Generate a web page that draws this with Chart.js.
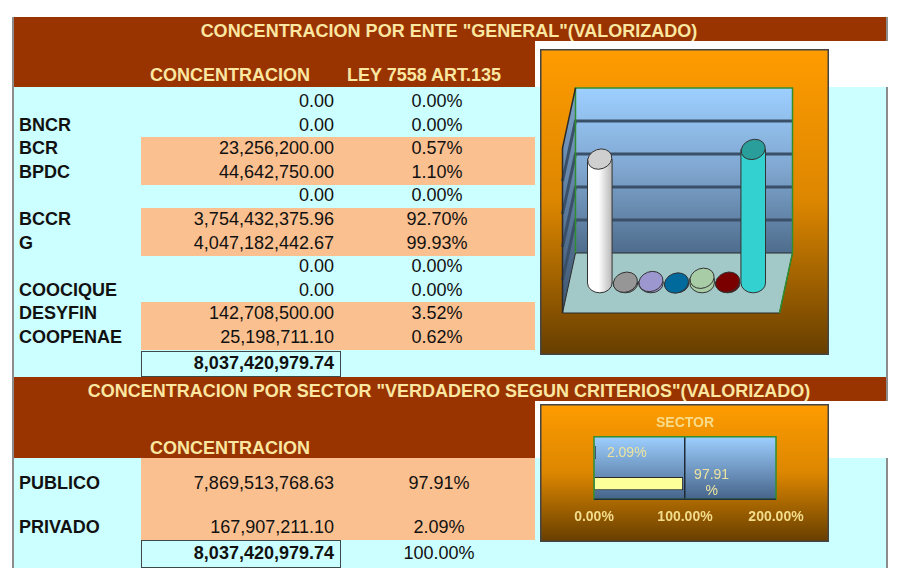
<!DOCTYPE html>
<html lang="es">
<head>
<meta charset="utf-8">
<title>Concentracion por ente</title>
<script src="https://cdn.jsdelivr.net/npm/chart.js@4.4.1/dist/chart.umd.min.js"></script>
<style>
  html, body { margin: 0; padding: 0; background: #fff; }
  body {
    width: 900px; height: 577px; position: relative; overflow: hidden;
    font-family: "Liberation Sans", Arial, sans-serif; font-size: 18px; color: #111;
  }
  .abs { position: absolute; box-sizing: border-box; }
  .cafe { background: #993300; color: #FBE7A1; font-weight: bold; }
  .cian { background: #CCFFFF; }
  .durazno { background: #FAC090; }
  .borde-der { border-right: 2px solid #8c8c8c; }
  .titulo { text-align: center; line-height: 24px; padding-top: 2px; white-space: nowrap; }
  .fila { line-height: 23.6px; height: 23.6px; white-space: nowrap; }
  .etq { font-weight: bold; }
  .der { text-align: right; }
  .cen { text-align: center; }
  .total { background: #CCFFFF; border: 1.5px solid #3d4a4a; font-weight: bold; text-align: right; padding-right: 6px; }
  canvas { position: absolute; }
</style>
</head>
<body>

<!-- bloque 1 -->
<div class="abs cafe titulo borde-der" style="left:12px;top:17px;width:876px;height:24px;">CONCENTRACION POR ENTE "GENERAL"(VALORIZADO)</div>
<div class="abs cafe" style="left:12px;top:41px;width:523px;height:46px;"></div>
<div class="abs cafe" style="left:150px;top:64px;line-height:22px;">CONCENTRACION</div>
<div class="abs cafe" style="left:347px;top:64px;line-height:22px;">LEY 7558 ART.135</div>
<div class="abs cian borde-der" style="left:12px;top:87px;width:876px;height:290px;"></div>
<div id="tablaEnte"></div>

<!-- bloque 2 -->
<div class="abs cafe titulo borde-der" style="left:12px;top:377px;width:876px;height:24px;">CONCENTRACION POR SECTOR "VERDADERO SEGUN CRITERIOS"(VALORIZADO)</div>
<div class="abs cafe" style="left:12px;top:401px;width:523px;height:57px;"></div>
<div class="abs cafe" style="left:150px;top:437px;line-height:22px;">CONCENTRACION</div>
<div class="abs cian borde-der" style="left:12px;top:458px;width:876px;height:110px;"></div>
<div id="tablaSector"></div>

<!-- borde izquierdo -->
<div class="abs" style="left:12px;top:17px;width:2px;height:551px;background:#8c8c8c;"></div>

<canvas id="cilindros" width="289" height="306" style="left:540px;top:49px;"></canvas>
<canvas id="sector" width="289" height="138" style="left:540px;top:404px;"></canvas>

<script>
// datos tabla por ente
const enteLabels = ['', 'BNCR', 'BCR', 'BPDC', '', 'BCCR', 'G', '', 'COOCIQUE', 'DESYFIN', 'COOPENAE'];
const enteMontos = [0, 0, 23256200.00, 44642750.00, 0, 3754432375.96, 4047182442.67, 0, 0, 142708500.00, 25198711.10];
const entePct = [0, 0, 0.57, 1.10, 0, 92.70, 99.93, 0, 0, 3.52, 0.62];
const enteTotal = 8037420979.74;

// datos grafico de cilindros
const cilLabels = ['BCCR', 'BCR', 'BPDC', 'COOCIQUE', 'DESYFIN', 'COOPENAE', 'G'];
const cilValues = [3754432375.96, 23256200.00, 44642750.00, 0, 142708500.00, 25198711.10, 4047182442.67];
const cilColors = ['#FFFFFF', '#969696', '#9C97CE', '#006A9C', '#A8CDA6', '#7A0000', '#33D2D0'];
const cilTapas = ['#CFCFCF', '#969696', '#9C97CE', '#006A9C', '#A8CDA6', '#7A0000', '#2A9E9A'];

// datos por sector
const sectorLabels = ['PUBLICO', 'PRIVADO'];
const sectorMontos = [7869513768.63, 167907211.10];
const sectorPct = [97.91, 2.09];
const sectorTotal = 8037420979.74;
const sectorTotalPct = 100.00;
const sectorColors = ['#FFFF99', '#1C1C30'];

const fmt = (n) => n.toLocaleString('en-US', { minimumFractionDigits: 2, maximumFractionDigits: 2 });
const pct = (n) => n.toFixed(2) + '%';

function celda(parent, cls, style, text) {
  const d = document.createElement('div');
  d.className = 'abs ' + cls;
  d.style.cssText = style;
  d.textContent = text;
  parent.appendChild(d);
}

// tabla por ente
const tEnte = document.getElementById('tablaEnte');
const paso = 23.6;
enteLabels.forEach((lab, i) => {
  const top = 90 + paso * i;
  if (enteMontos[i] > 0) celda(tEnte, 'durazno', `left:141px;top:${top}px;width:394px;height:${paso + 0.5}px;`, '');
  celda(tEnte, 'fila etq', `left:19px;top:${top}px;`, lab);
  celda(tEnte, 'fila der', `left:141px;top:${top}px;width:193px;`, fmt(enteMontos[i]));
  celda(tEnte, 'fila cen', `left:387px;top:${top}px;width:100px;`, pct(entePct[i]));
});
celda(tEnte, 'total', 'left:141px;top:351px;width:200px;height:26px;line-height:23px;', fmt(enteTotal));

// tabla por sector
const tSector = document.getElementById('tablaSector');
celda(tSector, 'durazno', 'left:141px;top:458px;width:394px;height:82px;', '');
sectorLabels.forEach((lab, i) => {
  const top = 472 + 44 * i;
  celda(tSector, 'fila etq', `left:19px;top:${top}px;`, lab);
  celda(tSector, 'fila der', `left:141px;top:${top}px;width:193px;`, fmt(sectorMontos[i]));
  celda(tSector, 'fila cen', `left:389px;top:${top}px;width:100px;`, pct(sectorPct[i]));
});
celda(tSector, 'total', 'left:141px;top:540px;width:200px;height:28px;line-height:25px;', fmt(sectorTotal));
celda(tSector, 'fila cen', 'left:389px;top:542px;width:100px;', pct(sectorTotalPct));

Chart.defaults.font.family = '"Liberation Sans", Arial, sans-serif';

// fondo naranja del recuadro
function fondoNaranja(ctx, w, h) {
  const g = ctx.createLinearGradient(0, 0, 0, h);
  g.addColorStop(0, '#FF9C00');
  g.addColorStop(0.5, '#DC8600');
  g.addColorStop(1, '#663E00');
  ctx.fillStyle = g;
  ctx.fillRect(0, 0, w, h);
}

function marco(chart) {
  const { ctx, width, height } = chart;
  ctx.save();
  ctx.strokeStyle = '#444';
  ctx.lineWidth = 1.5;
  ctx.strokeRect(0.75, 0.75, width - 1.5, height - 1.5);
  ctx.restore();
}

// paredes 3D del grafico de cilindros
const dx = 6.5, dy = 30;
const paredes3d = {
  id: 'paredes3d',
  beforeDraw(chart) {
    const { ctx, chartArea: ca, scales: { y }, width, height } = chart;
    ctx.save();
    fondoNaranja(ctx, width, height);

    const bl = ca.left + dx - 18, br = ca.right + dx + 20;
    const bt = ca.top - dy, bb = ca.bottom - dy;
    const fl = bl - 2 * dx, fb = bb + 2 * dy;

    // pared izquierda
    const gl = ctx.createLinearGradient(0, bt, 0, fb);
    gl.addColorStop(0, '#7EA4CE');
    gl.addColorStop(1, '#3E5670');
    ctx.fillStyle = gl;
    ctx.beginPath();
    ctx.moveTo(bl, bt); ctx.lineTo(bl, bb); ctx.lineTo(fl, fb); ctx.lineTo(fl, bt + 2 * dy);
    ctx.closePath();
    ctx.fill();

    // pared del fondo
    const gb = ctx.createLinearGradient(0, bt, 0, bb);
    gb.addColorStop(0, '#9DCFFF');
    gb.addColorStop(0.5, '#7FA6CF');
    gb.addColorStop(1, '#4E6C8C');
    ctx.fillStyle = gb;
    ctx.fillRect(bl, bt, br - bl, bb - bt);

    // lineas de division
    ctx.strokeStyle = '#3A5068';
    ctx.lineWidth = 3;
    [1e9, 2e9, 3e9, 4e9].forEach((v) => {
      const yy = y.getPixelForValue(v) - dy;
      ctx.beginPath();
      ctx.moveTo(fl, yy + 2 * dy); ctx.lineTo(bl, yy); ctx.lineTo(br, yy);
      ctx.stroke();
    });

    // piso
    ctx.fillStyle = '#A2C8C8';
    ctx.beginPath();
    ctx.moveTo(bl, bb); ctx.lineTo(br, bb); ctx.lineTo(br - 2 * dx, fb); ctx.lineTo(fl, fb);
    ctx.closePath();
    ctx.fill();
    ctx.strokeStyle = '#2B2B2B';
    ctx.lineWidth = 1;
    ctx.stroke();

    // contorno verde
    ctx.strokeStyle = '#2F8F2F';
    ctx.lineWidth = 1.5;
    ctx.beginPath();
    ctx.moveTo(bl, bb); ctx.lineTo(bl, bt); ctx.lineTo(br, bt); ctx.lineTo(br, bb); ctx.lineTo(br - 2 * dx, fb);
    ctx.stroke();
    ctx.strokeStyle = '#2B2B2B';
    ctx.beginPath();
    ctx.moveTo(bl, bt); ctx.lineTo(fl, bt + 2 * dy); ctx.lineTo(fl, fb);
    ctx.stroke();
    ctx.restore();
  },
  afterDraw: marco
};

// cilindros dibujados sobre las barras de la libreria
const cilindros3d = {
  id: 'cilindros3d',
  afterDatasetsDraw(chart) {
    const { ctx } = chart;
    const barras = chart.getDatasetMeta(0).data;
    ctx.save();
    ctx.strokeStyle = '#333';
    ctx.lineWidth = 1;
    barras.forEach((bar, i) => {
      const cx = bar.x, top = bar.y, base = bar.base;
      const rx = bar.width / 2 - 0.5, ry = rx * 0.8;
      const g = ctx.createLinearGradient(cx - rx, 0, cx + rx, 0);
      const c = cilColors[i];
      g.addColorStop(0, c);
      g.addColorStop(0.45, c);
      g.addColorStop(1, i === 0 ? '#B8B8B8' : c);
      ctx.fillStyle = g;
      ctx.beginPath();
      ctx.moveTo(cx - rx, top);
      ctx.lineTo(cx - rx, base);
      ctx.ellipse(cx, base, rx, ry, 0, Math.PI, 0, true);
      ctx.lineTo(cx + rx, top);
      ctx.closePath();
      ctx.fill();
      ctx.stroke();
      ctx.fillStyle = cilTapas[i];
      ctx.beginPath();
      ctx.ellipse(cx, top, rx, ry, -0.35, 0, Math.PI * 2);
      ctx.fill();
      ctx.stroke();
    });
    ctx.restore();
  }
};

new Chart(document.getElementById('cilindros'), {
  type: 'bar',
  data: {
    labels: cilLabels,
    datasets: [{
      data: cilValues,
      backgroundColor: 'rgba(0,0,0,0)',
      borderWidth: 0,
      categoryPercentage: 1,
      barPercentage: 1
    }]
  },
  options: {
    responsive: false,
    animation: false,
    layout: { padding: { left: 47, right: 63, top: 69, bottom: 72 } },
    plugins: { legend: { display: false }, tooltip: { enabled: false } },
    scales: {
      x: { display: false },
      y: { display: false, min: 0, max: 5e9 }
    }
  },
  plugins: [paredes3d, cilindros3d]
});

// grafico por sector
const fondoSector = {
  id: 'fondoSector',
  beforeDraw(chart) {
    const { ctx, chartArea: ca, width, height } = chart;
    ctx.save();
    fondoNaranja(ctx, width, height);
    const g = ctx.createLinearGradient(0, ca.top, 0, ca.bottom);
    g.addColorStop(0, '#9DCFFF');
    g.addColorStop(1, '#46648A');
    ctx.fillStyle = g;
    ctx.fillRect(ca.left, ca.top, ca.right - ca.left, ca.bottom - ca.top);
    ctx.restore();
  },
  afterDatasetsDraw(chart) {
    const { ctx, chartArea: ca } = chart;
    ctx.save();
    ctx.strokeStyle = '#2F8F2F';
    ctx.lineWidth = 1.5;
    ctx.strokeRect(ca.left, ca.top, ca.right - ca.left, ca.bottom - ca.top);
    ctx.strokeStyle = '#23303C';
    ctx.beginPath();
    ctx.moveTo(ca.left, ca.bottom); ctx.lineTo(ca.right, ca.bottom);
    ctx.stroke();

    // etiquetas de datos
    ctx.fillStyle = '#EDE3A0';
    ctx.font = '14px "Liberation Sans", Arial, sans-serif';
    ctx.textBaseline = 'middle';
    chart.getDatasetMeta(0).data.forEach((bar, i) => {
      const v = sectorPct[i];
      const x0 = bar.x + 11;
      if (v > 50) {
        const lineas = [v.toFixed(2), '%'];
        const w = ctx.measureText(lineas[0]).width;
        ctx.textAlign = 'center';
        ctx.fillText(lineas[0], x0 + w / 2, bar.y - 8);
        ctx.fillText(lineas[1], x0 + w / 2, bar.y + 8);
      } else {
        ctx.textAlign = 'left';
        ctx.fillText(pct(v), x0, bar.y + 1);
      }
    });
    ctx.restore();
  },
  afterDraw: marco
};

new Chart(document.getElementById('sector'), {
  type: 'bar',
  data: {
    labels: sectorLabels,
    datasets: [{
      data: sectorPct,
      backgroundColor: sectorColors,
      borderColor: '#2B2B2B',
      borderWidth: 1,
      categoryPercentage: 1,
      barPercentage: 0.42
    }]
  },
  options: {
    indexAxis: 'y',
    responsive: false,
    animation: false,
    layout: { padding: { left: 54, right: 53, top: 0, bottom: 6 } },
    plugins: {
      legend: { display: false },
      tooltip: { enabled: false },
      title: {
        display: true,
        text: 'SECTOR',
        color: '#F7DC8A',
        font: { size: 14, weight: 'bold' },
        padding: { top: 11, bottom: 5 }
      }
    },
    scales: {
      x: {
        min: 0,
        max: 200,
        ticks: {
          stepSize: 100,
          maxRotation: 0,
          padding: 10,
          color: '#F2DC8C',
          font: { size: 14, weight: 'bold' },
          callback: (v) => v.toFixed(2) + '%'
        },
        grid: {
          drawTicks: false,
          lineWidth: 1.5,
          color: (c) => (c.tick && c.tick.value === 100 ? '#1F2A36' : 'rgba(0,0,0,0)')
        },
        border: { display: false }
      },
      y: { display: false, reverse: true }
    }
  },
  plugins: [fondoSector]
});
</script>
</body>
</html>
